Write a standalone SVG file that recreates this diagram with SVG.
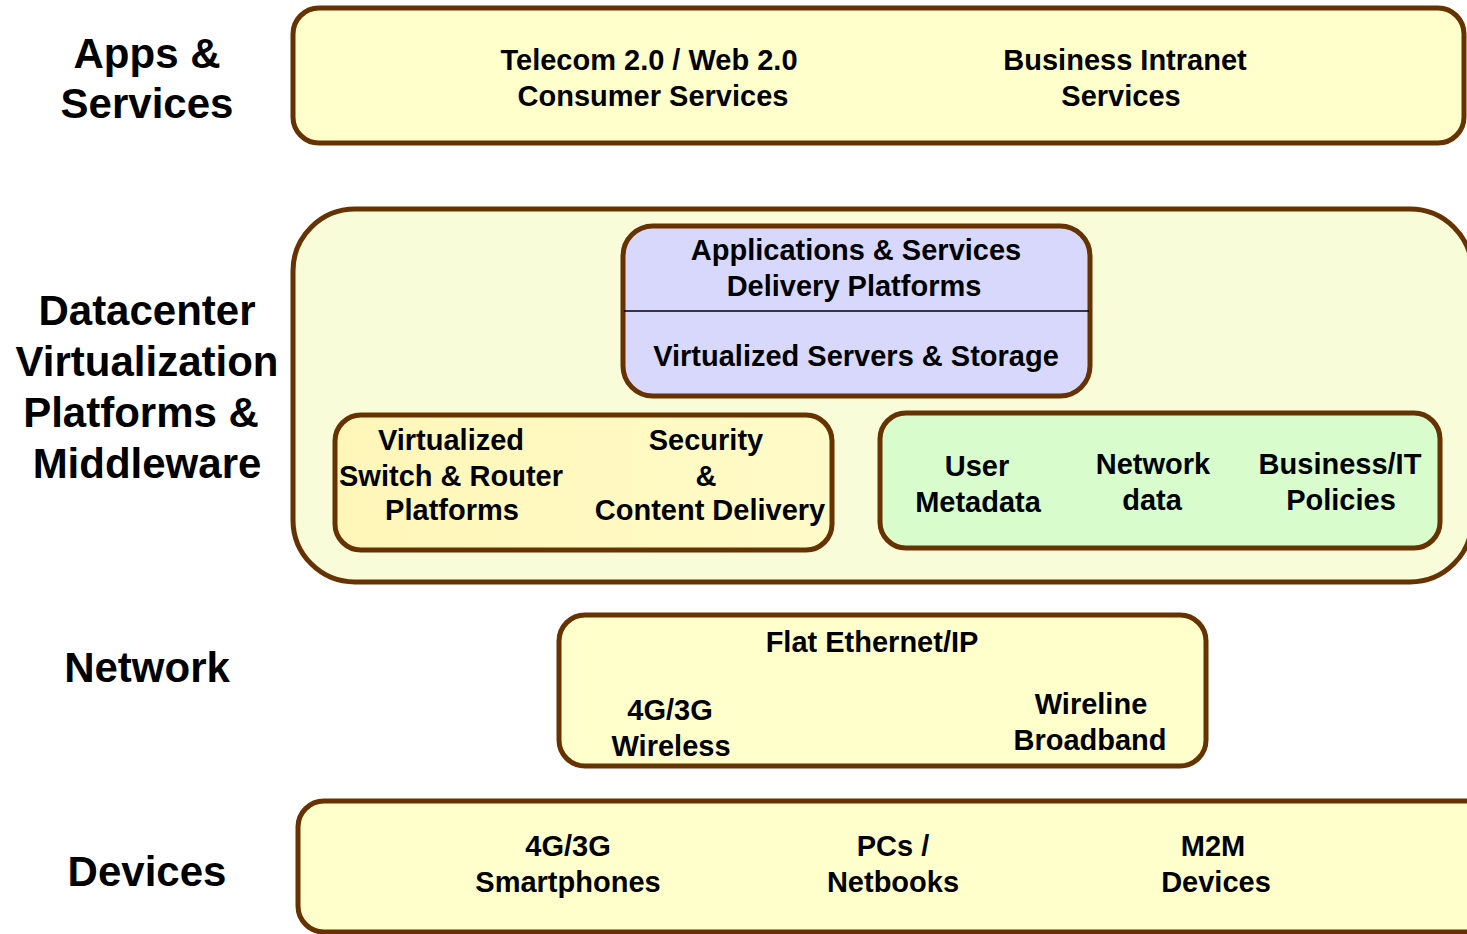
<svg xmlns="http://www.w3.org/2000/svg" width="1467" height="934" viewBox="0 0 1467 934">
<style>
.box{stroke:#663300;stroke-width:5}
.lbl{font-family:"Liberation Sans",Arial,sans-serif;font-weight:bold;font-size:42px;fill:#000;text-anchor:middle}
.t{font-family:"Liberation Sans",Arial,sans-serif;font-weight:bold;font-size:29px;fill:#000;text-anchor:middle}
</style>
<defs>
<linearGradient id="sw" x1="0" y1="0" x2="1" y2="0">
<stop offset="0" stop-color="#FFF6B8"/>
<stop offset="1" stop-color="#FFFBC8"/>
</linearGradient>
</defs>
<rect width="1467" height="934" fill="#fff"/>
<g id="labels">
<text class="lbl" x="147" y="68">Apps &amp;</text>
<text class="lbl" x="147" y="118">Services</text>
<text class="lbl" x="147" y="325">Datacenter</text>
<text class="lbl" x="147" y="376">Virtualization</text>
<text class="lbl" x="141" y="427">Platforms &amp;</text>
<text class="lbl" x="147" y="478">Middleware</text>
<text class="lbl" x="147" y="682">Network</text>
<text class="lbl" x="147" y="886">Devices</text>
</g>
<g id="apps">
<rect class="box" x="293" y="8" width="1171" height="135" rx="26" fill="#FFFFCC"/>
<text class="t" x="649" y="70">Telecom 2.0 / Web 2.0</text>
<text class="t" x="653" y="106">Consumer Services</text>
<text class="t" x="1125" y="70">Business Intranet</text>
<text class="t" x="1121" y="106">Services</text>
</g>
<g id="datacenter">
<rect class="box" x="293" y="209" width="1179" height="373" rx="62" fill="#F8FCD8"/>
</g>
<g id="delivery">
<rect class="box" x="623" y="226" width="467" height="170" rx="30" fill="#D8D8FC"/>
<line x1="624" y1="311" x2="1089" y2="311" stroke="#000" stroke-width="1.5"/>
<text class="t" x="856" y="260">Applications &amp; Services</text>
<text class="t" x="854" y="296">Delivery Platforms</text>
<text class="t" x="856" y="366">Virtualized Servers &amp; Storage</text>
</g>
<g id="switch">
<rect class="box" x="335" y="415" width="497" height="135" rx="26" fill="url(#sw)"/>
<text class="t" x="451" y="450">Virtualized</text>
<text class="t" x="451" y="486">Switch &amp; Router</text>
<text class="t" x="452" y="520">Platforms</text>
<text class="t" x="706" y="450">Security</text>
<text class="t" x="706" y="486">&amp;</text>
<text class="t" x="710" y="520">Content Delivery</text>
</g>
<g id="metadata">
<rect class="box" x="880" y="413" width="560" height="135" rx="26" fill="#D8FCCC"/>
<text class="t" x="977" y="476">User</text>
<text class="t" x="978" y="512">Metadata</text>
<text class="t" x="1153" y="474">Network</text>
<text class="t" x="1152" y="510">data</text>
<text class="t" x="1340" y="474">Business/IT</text>
<text class="t" x="1341" y="510">Policies</text>
</g>
<g id="network">
<rect class="box" x="559" y="615" width="647" height="151" rx="26" fill="#FFFFCC"/>
<text class="t" x="872" y="652">Flat Ethernet/IP</text>
<text class="t" x="670" y="720">4G/3G</text>
<text class="t" x="671" y="756">Wireless</text>
<text class="t" x="1091" y="714">Wireline</text>
<text class="t" x="1090" y="750">Broadband</text>
</g>
<g id="devices">
<rect class="box" x="298" y="801" width="1200" height="131" rx="26" fill="#FFFFCC"/>
<text class="t" x="568" y="856">4G/3G</text>
<text class="t" x="568" y="892">Smartphones</text>
<text class="t" x="893" y="856">PCs /</text>
<text class="t" x="893" y="892">Netbooks</text>
<text class="t" x="1213" y="856">M2M</text>
<text class="t" x="1216" y="892">Devices</text>
</g>
<g id="connectors"></g>
</svg>
